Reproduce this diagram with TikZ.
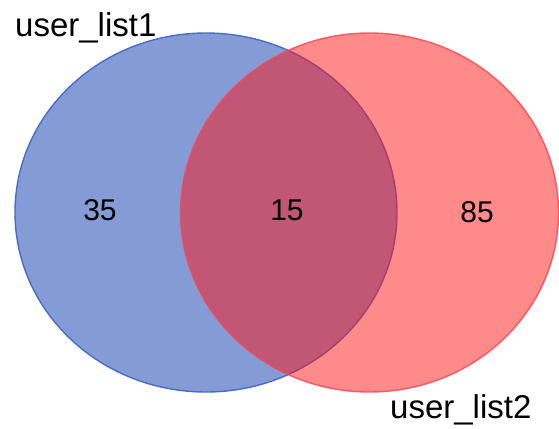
\documentclass[tikz,border=0pt]{standalone}
\usepackage{fontspec}
\setmainfont{Liberation Sans}
\usetikzlibrary{shapes.geometric}
\definecolor{setblue}{RGB}{11,55,171}
\definecolor{setblueline}{RGB}{70,108,205}
\definecolor{setred}{RGB}{255,21,21}
\definecolor{setredline}{RGB}{250,70,80}
\newcommand{\setlw}{1.4pt}
\newcommand{\labelfont}{\fontsize{33}{33}\selectfont}
\newcommand{\countfont}{\fontsize{30}{30}\selectfont}

\begin{document}
\begin{tikzpicture}[x = 1pt, y = -1pt]
                %\draw[help lines] (0,0) grid[step=50] (559,428);
                \useasboundingbox (0, 0) rectangle (559, 428);
                \tikzset{SetStyle/.style = {ellipse, inner sep = 0pt, line width = \setlw,
                        fill opacity = 0.5}}
                \tikzset{CountStyle/.style = {font = \countfont, text = black}}
                \tikzset{NameStyle/.style = {font = \labelfont, text = black, anchor = base west, inner sep = 0pt}}

                % the two sets
                \node[SetStyle, draw = setblueline, fill = setblue,
                      minimum width = 382pt, minimum height = 359pt] (list1) at (206, 212.5) {};
                \node[SetStyle, draw = setredline, fill = setred, draw opacity = 0.85,
                      minimum width = 378pt, minimum height = 359pt] (list2) at (369.5, 212.5) {};

                % set names
                \node[NameStyle] (name1) at (15, 37) {user\_list1};
                \node[NameStyle] (name2) at (390, 418) {user\_list2};

                % counts
                \node[CountStyle] (only1) at (100, 210) {35};
                \node[CountStyle] (both) at (287, 210) {15};
                \node[CountStyle] (only2) at (477, 212) {85};

        \end{tikzpicture}
\end{document}
